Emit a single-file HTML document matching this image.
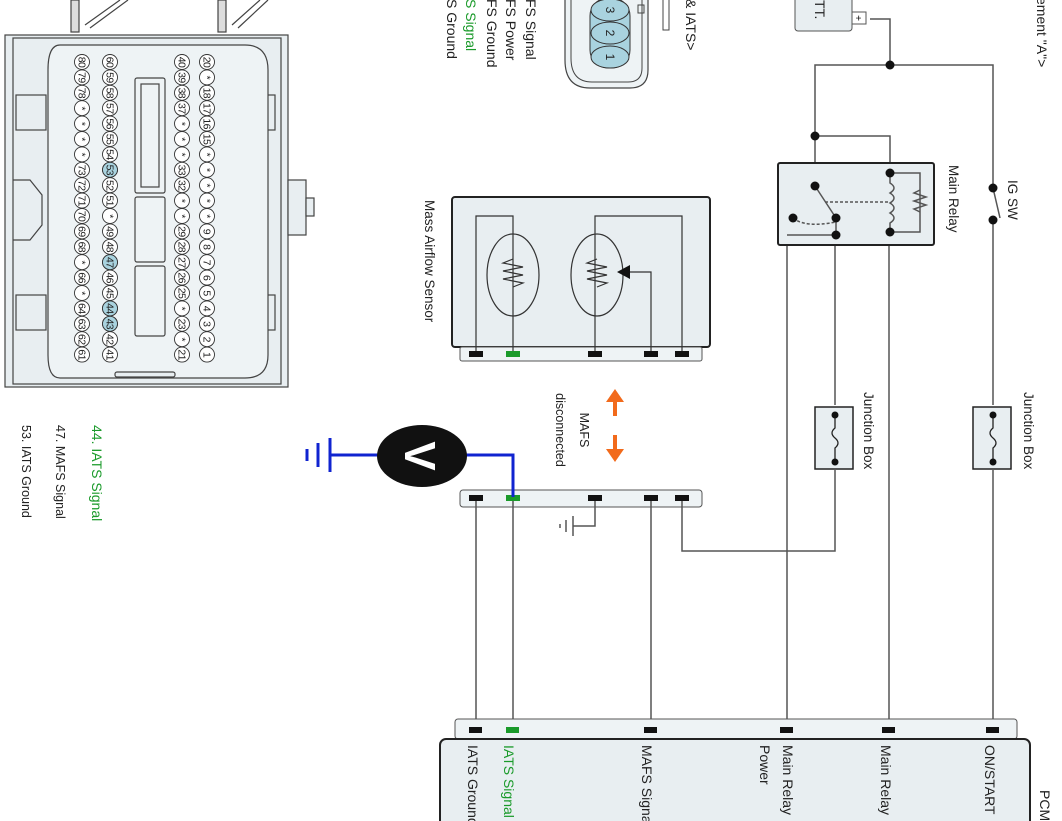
<!DOCTYPE html>
<html><head><meta charset="utf-8"><style>
html,body{margin:0;padding:0;background:#fff;}
svg{display:block;font-family:"Liberation Sans",sans-serif;}
.w{stroke:#555;stroke-width:1.5;fill:none}
</style></head><body>
<svg width="1062" height="821" viewBox="0 0 1062 821" xmlns="http://www.w3.org/2000/svg">
<!-- PCM connector -->
<g stroke="#444" stroke-width="1.2" fill="#e8eef1">
<rect x="71" y="0" width="8" height="32" fill="#ddd"/>
<rect x="218" y="0" width="8" height="32" fill="#ddd"/>
<path d="M85 25 L120 0 M90 28 L128 0 M232 25 L260 0 M238 28 L268 0" fill="none"/>
<rect x="5" y="35" width="283" height="352"/>
<rect x="13" y="38" width="268" height="346" fill="none"/>
<rect x="288" y="180" width="18" height="55"/>
<rect x="306" y="198" width="8" height="18"/>
<rect x="16" y="95" width="30" height="35" fill="none"/>
<rect x="16" y="295" width="30" height="35" fill="none"/>
<rect x="245" y="95" width="30" height="35" fill="none"/>
<rect x="245" y="295" width="30" height="35" fill="none"/>
<path d="M13 180 L30 180 L42 195 L42 225 L30 240 L13 240" fill="none"/>
<path d="M60 45 L245 45 Q268 45 268 70 L268 355 Q268 378 245 378 L60 378 Q48 378 48 355 L48 70 Q48 45 60 45 Z" fill="#eef3f5"/>
<rect x="135" y="78" width="30" height="115" rx="2" fill="#eef3f5"/>
<rect x="141" y="84" width="18" height="103" fill="none"/>
<rect x="135" y="197" width="30" height="65" rx="2" fill="#eef3f5"/>
<rect x="135" y="266" width="30" height="70" rx="2" fill="#eef3f5"/>
<rect x="115" y="372" width="60" height="5" rx="2"/>
</g>
<defs>
<g id="col"><g stroke="#333" stroke-width="0.9">
<circle cx="0" cy="62" r="7.5"/><circle cx="0" cy="77.4" r="7.5"/><circle cx="0" cy="92.8" r="7.5"/><circle cx="0" cy="108.2" r="7.5"/><circle cx="0" cy="123.6" r="7.5"/><circle cx="0" cy="139" r="7.5"/><circle cx="0" cy="154.4" r="7.5"/><circle cx="0" cy="169.8" r="7.5"/><circle cx="0" cy="185.2" r="7.5"/><circle cx="0" cy="200.6" r="7.5"/><circle cx="0" cy="216" r="7.5"/><circle cx="0" cy="231.4" r="7.5"/><circle cx="0" cy="246.8" r="7.5"/><circle cx="0" cy="262.2" r="7.5"/><circle cx="0" cy="277.6" r="7.5"/><circle cx="0" cy="293" r="7.5"/><circle cx="0" cy="308.4" r="7.5"/><circle cx="0" cy="323.8" r="7.5"/><circle cx="0" cy="339.2" r="7.5"/><circle cx="0" cy="354.6" r="7.5"/>
</g></g>
</defs>
<use href="#col" x="82" fill="#fff"/>
<use href="#col" x="110" fill="#fff"/>
<use href="#col" x="182" fill="#fff"/>
<use href="#col" x="207" fill="#fff"/>
<g fill="#a9d3df" stroke="#333" stroke-width="0.9">
<circle cx="110" cy="169.8" r="7.5"/><circle cx="110" cy="262.2" r="7.5"/><circle cx="110" cy="308.4" r="7.5"/><circle cx="110" cy="323.8" r="7.5"/>
</g>
<g font-size="10.5" fill="#222" text-anchor="middle" letter-spacing="-0.6">
<g transform="translate(78.5,0)">
<text transform="translate(0,62) rotate(90)">80</text><text transform="translate(0,77.4) rotate(90)">79</text><text transform="translate(0,92.8) rotate(90)">78</text><text transform="translate(0,108.2) rotate(90)">*</text><text transform="translate(0,123.6) rotate(90)">*</text><text transform="translate(0,139) rotate(90)">*</text><text transform="translate(0,154.4) rotate(90)">*</text><text transform="translate(0,169.8) rotate(90)">73</text><text transform="translate(0,185.2) rotate(90)">72</text><text transform="translate(0,200.6) rotate(90)">71</text><text transform="translate(0,216) rotate(90)">70</text><text transform="translate(0,231.4) rotate(90)">69</text><text transform="translate(0,246.8) rotate(90)">68</text><text transform="translate(0,262.2) rotate(90)">*</text><text transform="translate(0,277.6) rotate(90)">66</text><text transform="translate(0,293) rotate(90)">*</text><text transform="translate(0,308.4) rotate(90)">64</text><text transform="translate(0,323.8) rotate(90)">63</text><text transform="translate(0,339.2) rotate(90)">62</text><text transform="translate(0,354.6) rotate(90)">61</text>
</g>
<g transform="translate(106.5,0)">
<text transform="translate(0,62) rotate(90)">60</text><text transform="translate(0,77.4) rotate(90)">59</text><text transform="translate(0,92.8) rotate(90)">58</text><text transform="translate(0,108.2) rotate(90)">57</text><text transform="translate(0,123.6) rotate(90)">56</text><text transform="translate(0,139) rotate(90)">55</text><text transform="translate(0,154.4) rotate(90)">54</text><text transform="translate(0,169.8) rotate(90)">53</text><text transform="translate(0,185.2) rotate(90)">52</text><text transform="translate(0,200.6) rotate(90)">51</text><text transform="translate(0,216) rotate(90)">*</text><text transform="translate(0,231.4) rotate(90)">49</text><text transform="translate(0,246.8) rotate(90)">48</text><text transform="translate(0,262.2) rotate(90)">47</text><text transform="translate(0,277.6) rotate(90)">46</text><text transform="translate(0,293) rotate(90)">45</text><text transform="translate(0,308.4) rotate(90)">44</text><text transform="translate(0,323.8) rotate(90)">43</text><text transform="translate(0,339.2) rotate(90)">42</text><text transform="translate(0,354.6) rotate(90)">41</text>
</g>
<g transform="translate(178.5,0)">
<text transform="translate(0,62) rotate(90)">40</text><text transform="translate(0,77.4) rotate(90)">39</text><text transform="translate(0,92.8) rotate(90)">38</text><text transform="translate(0,108.2) rotate(90)">37</text><text transform="translate(0,123.6) rotate(90)">*</text><text transform="translate(0,139) rotate(90)">*</text><text transform="translate(0,154.4) rotate(90)">*</text><text transform="translate(0,169.8) rotate(90)">33</text><text transform="translate(0,185.2) rotate(90)">32</text><text transform="translate(0,200.6) rotate(90)">*</text><text transform="translate(0,216) rotate(90)">*</text><text transform="translate(0,231.4) rotate(90)">29</text><text transform="translate(0,246.8) rotate(90)">28</text><text transform="translate(0,262.2) rotate(90)">27</text><text transform="translate(0,277.6) rotate(90)">26</text><text transform="translate(0,293) rotate(90)">25</text><text transform="translate(0,308.4) rotate(90)">*</text><text transform="translate(0,323.8) rotate(90)">23</text><text transform="translate(0,339.2) rotate(90)">*</text><text transform="translate(0,354.6) rotate(90)">21</text>
</g>
<g transform="translate(203.5,0)">
<text transform="translate(0,62) rotate(90)">20</text><text transform="translate(0,77.4) rotate(90)">*</text><text transform="translate(0,92.8) rotate(90)">18</text><text transform="translate(0,108.2) rotate(90)">17</text><text transform="translate(0,123.6) rotate(90)">16</text><text transform="translate(0,139) rotate(90)">15</text><text transform="translate(0,154.4) rotate(90)">*</text><text transform="translate(0,169.8) rotate(90)">*</text><text transform="translate(0,185.2) rotate(90)">*</text><text transform="translate(0,200.6) rotate(90)">*</text><text transform="translate(0,216) rotate(90)">*</text><text transform="translate(0,231.4) rotate(90)">9</text><text transform="translate(0,246.8) rotate(90)">8</text><text transform="translate(0,262.2) rotate(90)">7</text><text transform="translate(0,277.6) rotate(90)">6</text><text transform="translate(0,293) rotate(90)">5</text><text transform="translate(0,308.4) rotate(90)">4</text><text transform="translate(0,323.8) rotate(90)">3</text><text transform="translate(0,339.2) rotate(90)">2</text><text transform="translate(0,354.6) rotate(90)">1</text>
</g>
</g>

<!-- legend bottom-left -->
<g font-size="14">
<text transform="translate(92,425) rotate(90)" fill="#1a9a2a">44. IATS Signal</text>
<text transform="translate(56,425) rotate(90)" font-size="12.5" fill="#222">47. MAFS Signal</text>
<text transform="translate(22,425) rotate(90)" font-size="12.5" fill="#222">53. IATS Ground</text>
</g>

<!-- top labels -->
<g font-size="14" fill="#222">
<text transform="translate(526,-1) rotate(90)">FS Signal</text>
<text transform="translate(506,-1) rotate(90)">FS Power</text>
<text transform="translate(487,-1) rotate(90)">FS Ground</text>
<text transform="translate(466,-1) rotate(90)" fill="#1a9a2a">S Signal</text>
<text transform="translate(447,-1) rotate(90)">S Ground</text>
<text transform="translate(686,-1) rotate(90)">&amp; IATS&gt;</text>
<text transform="translate(1037,-3) rotate(90)">ement "A"&gt;</text>
</g>
<!-- sensor connector -->
<path d="M565 0 L565 60 Q565 88 590 88 L630 88 Q648 88 648 70 L648 0" fill="#eef3f5" stroke="#444" stroke-width="1.2"/>
<path d="M571 0 L571 58 Q571 82 592 82 L628 82 Q642 82 642 68 L642 0" fill="none" stroke="#444" stroke-width="1"/>
<rect x="590" y="-2" width="40" height="70" rx="18" fill="#a9d3df" stroke="#333"/>
<g fill="#a9d3df" stroke="#333"><ellipse cx="610" cy="10" rx="19" ry="11"/><ellipse cx="610" cy="33" rx="19" ry="11"/><ellipse cx="610" cy="57" rx="19" ry="11"/></g>
<g font-size="12" fill="#222" text-anchor="middle"><text transform="translate(606,10) rotate(90)">3</text><text transform="translate(606,33) rotate(90)">2</text><text transform="translate(606,57) rotate(90)">1</text></g>
<rect x="638" y="5" width="6" height="8" fill="none" stroke="#444"/>
<path d="M663 0 L663 30 L669 30 L669 0" fill="none" stroke="#444"/>

<!-- Mass Airflow Sensor -->
<text transform="translate(425,200) rotate(90)" font-size="13.5" fill="#222">Mass Airflow Sensor</text>
<rect x="452" y="197" width="258" height="150" rx="3" fill="#e8eef1" stroke="#222" stroke-width="2"/>
<rect x="460" y="347" width="242" height="14" rx="2" fill="#eef3f5" stroke="#555"/>
<g fill="none" stroke="#333" stroke-width="1.2">
<path d="M476 352 L476 216 L513 216 L513 352"/>
<path d="M595 352 L595 216 L682 216 L682 352"/>
<path d="M651 352 L651 272 L628 272"/>
<ellipse cx="513" cy="275" rx="26" ry="41"/>
<ellipse cx="597" cy="275" rx="26" ry="41"/>
<path d="M513 259 L503 263 L523 267 L503 271 L523 275 L503 279 L523 283 L513 287"/>
<path d="M597 259 L587 263 L607 267 L587 271 L607 275 L587 279 L607 283 L597 287"/>
</g>
<path d="M617 272 L630 265 L630 279 Z" fill="#111"/>
<g><rect x="469" y="351" width="14" height="6" fill="#111"/><rect x="506" y="351" width="14" height="6" fill="#1a9a2a"/><rect x="588" y="351" width="14" height="6" fill="#111"/><rect x="644" y="351" width="14" height="6" fill="#111"/><rect x="675" y="351" width="14" height="6" fill="#111"/></g>

<!-- MAFS disconnected -->
<g fill="#f26a1b">
<rect x="613" y="398" width="4" height="18"/><path d="M606 402 L615 389 L624 402 Z"/>
<rect x="613" y="435" width="4" height="18"/><path d="M606 449 L615 462 L624 449 Z"/>
</g>
<g font-size="12.5" fill="#222" text-anchor="middle">
<text transform="translate(580,430) rotate(90)">MAFS</text>
<text transform="translate(556,430) rotate(90)">disconnected</text>
</g>

<!-- lower strip -->
<rect x="460" y="490" width="242" height="17" rx="3" fill="#eef3f5" stroke="#555"/>
<g><rect x="469" y="495" width="14" height="6" fill="#111"/><rect x="506" y="495" width="14" height="6" fill="#1a9a2a"/><rect x="588" y="495" width="14" height="6" fill="#111"/><rect x="644" y="495" width="14" height="6" fill="#111"/><rect x="675" y="495" width="14" height="6" fill="#111"/></g>
<g class="w">
<path d="M595 501 L595 526 L573 526"/>
<line x1="573" y1="516" x2="573" y2="536"/><line x1="566" y1="520" x2="566" y2="532"/><line x1="560" y1="524" x2="560" y2="528"/>
<path d="M476 501 L476 728"/><path d="M513 501 L513 728"/><path d="M651 501 L651 728"/>
<path d="M682 501 L682 551 L835 551 L835 470"/>
<path d="M835 405 L835 237"/>
<path d="M787 728 L787 218 L793 218"/>
<path d="M889 728 L889 232"/>
<path d="M993 728 L993 470"/><path d="M993 405 L993 220"/><path d="M993 188 L993 65 L815 65 L815 186"/>
<path d="M870 19 L890 19 L890 65"/>
<path d="M815 136 L890 136 L890 173"/>
</g>

<!-- voltmeter -->
<g stroke="#1024d0" stroke-width="3" fill="none">
<path d="M330 455 L380 455"/><path d="M465 455 L513 455 L513 497"/>
<line x1="330" y1="438" x2="330" y2="472"/><line x1="318" y1="443" x2="318" y2="467"/><line x1="307" y1="449" x2="307" y2="461"/>
</g>
<ellipse cx="422" cy="456" rx="45" ry="31" fill="#111"/>
<text transform="translate(405,456) rotate(90)" font-size="44" font-weight="bold" fill="#fff" text-anchor="middle">V</text>

<!-- junction boxes -->
<g fill="#e8eef1" stroke="#222" stroke-width="1.5">
<rect x="815" y="407" width="38" height="62"/>
<rect x="973" y="407" width="38" height="62"/>
</g>
<g fill="none" stroke="#222" stroke-width="1.3">
<path d="M835 415 L835 428 Q829 433 835 438 Q841 443 835 448 L835 462"/>
<path d="M993 415 L993 428 Q987 433 993 438 Q999 443 993 448 L993 462"/>
</g>
<g fill="#111"><circle cx="835" cy="415" r="3.5"/><circle cx="835" cy="462" r="3.5"/><circle cx="993" cy="415" r="3.5"/><circle cx="993" cy="462" r="3.5"/></g>
<g font-size="13.5" fill="#222">
<text transform="translate(864,392) rotate(90)">Junction Box</text>
<text transform="translate(1024,392) rotate(90)">Junction Box</text>
<text transform="translate(949,165) rotate(90)">Main Relay</text>
<text transform="translate(1008,180) rotate(90)">IG SW</text>
</g>

<!-- battery -->
<rect x="795" y="-5" width="57" height="36" rx="3" fill="#e8eef1" stroke="#555"/>
<rect x="852" y="12" width="14" height="12" fill="#fff" stroke="#555"/>
<text transform="translate(855,18) rotate(90)" font-size="10" text-anchor="middle">+</text>
<text transform="translate(815,0) rotate(90)" font-size="14" fill="#222">TT.</text>

<!-- main relay -->
<rect x="778" y="163" width="156" height="82" rx="2" fill="#e8eef1" stroke="#222" stroke-width="2"/>
<g class="w" stroke="#333">
<path d="M815 186 L836 218"/>
<path d="M836 218 L836 235 L787 235"/>
<path d="M793 218 Q805 228 836 222" stroke-dasharray="3,2"/>
<path d="M825 202 L890 202" stroke-dasharray="3,2"/>
<path d="M890 173 L920 173 L920 232 L890 232"/>
<path d="M890 173 L890 183 Q898 188 890 193 Q898 198 890 203 Q898 208 890 213 Q898 218 890 223 L890 232"/>
<path d="M920 190 L914 193 L926 197 L914 201 L926 205 L914 209 L920 212"/>
<path d="M993 188 L1000 218"/>
</g>
<g fill="#111">
<circle cx="890" cy="65" r="4.5"/><circle cx="815" cy="136" r="4.5"/>
<circle cx="815" cy="186" r="4.5"/><circle cx="836" cy="218" r="4.5"/><circle cx="836" cy="235" r="4.5"/><circle cx="793" cy="218" r="4.5"/>
<circle cx="890" cy="173" r="4.5"/><circle cx="890" cy="232" r="4.5"/>
<circle cx="993" cy="188" r="4.5"/><circle cx="993" cy="220" r="4.5"/>
</g>

<!-- PCM -->
<rect x="455" y="719" width="562" height="20" rx="3" fill="#eef3f5" stroke="#555"/>
<g fill="#111"><rect x="469" y="727" width="13" height="6"/><rect x="506" y="727" width="13" height="6" fill="#1a9a2a"/><rect x="644" y="727" width="13" height="6"/><rect x="780" y="727" width="13" height="6"/><rect x="882" y="727" width="13" height="6"/><rect x="986" y="727" width="13" height="6"/></g>
<rect x="440" y="739" width="590" height="100" rx="6" fill="#e8eef1" stroke="#222" stroke-width="2"/>
<g font-size="14" fill="#222">
<text transform="translate(468,745) rotate(90)">IATS Ground</text>
<text transform="translate(504,745) rotate(90)" fill="#1a9a2a">IATS Signal</text>
<text transform="translate(642,745) rotate(90)">MAFS Signal</text>
<text transform="translate(783,745) rotate(90)">Main Relay</text>
<text transform="translate(760,745) rotate(90)">Power</text>
<text transform="translate(881,745) rotate(90)">Main Relay</text>
<text transform="translate(985,745) rotate(90)">ON/START</text>
<text transform="translate(1040,790) rotate(90)">PCM</text>
</g>
</svg>
</body></html>
